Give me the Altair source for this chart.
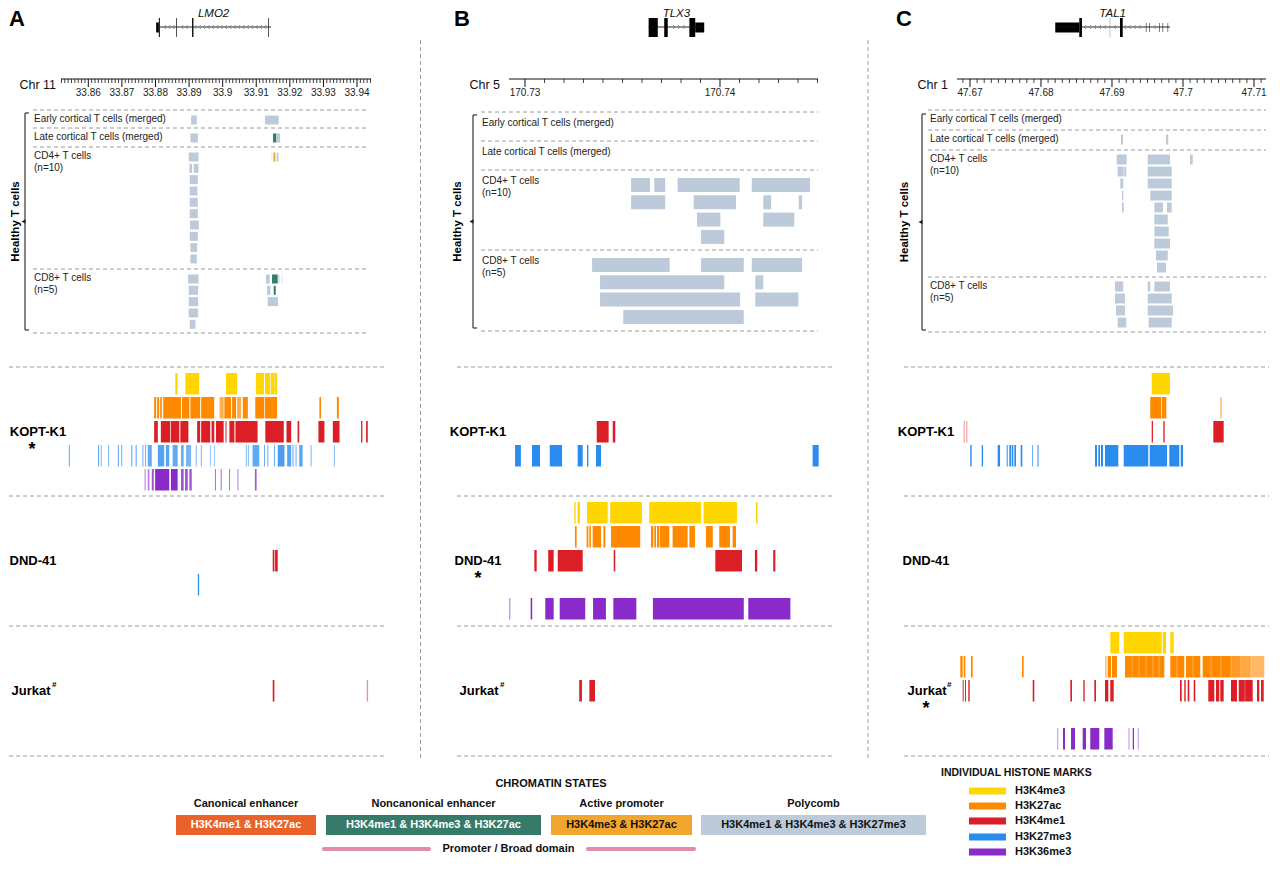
import altair as alt
import numpy as np
import pandas as pd

# =========================== DATA ===========================
MARKS = ["H3K4me3", "H3K27ac", "H3K4me1", "H3K27me3", "H3K36me3"]
MARK_COLORS = ["#FFD600", "#FF8A00", "#DC1F26", "#2B8CF0", "#8A2BC9"]

STATE_CODES = ["C", "N", "A", "P"]
STATE_NAMES = ["Canonical enhancer", "Noncanonical enhancer", "Active promoter", "Polycomb"]
STATE_MARKS = ["H3K4me1 & H3K27ac", "H3K4me1 & H3K4me3 & H3K27ac",
               "H3K4me3 & H3K27ac", "H3K4me1 & H3K4me3 & H3K27me3"]
STATE_COLORS = ["#E8622A", "#367B69", "#F2A52F", "#BCCADA"]

CELL_LINES = ["KOPT-K1", "DND-41", "Jurkat"]
HEALTHY_GROUPS = [["Early cortical T cells (merged)"], ["Late cortical T cells (merged)"],
                  ["CD4+ T cells", "(n=10)"], ["CD8+ T cells", "(n=5)"]]

# ---------------- Panel A : LMO2, chr11 ----------------
A_CHROM = "Chr 11"
A_GENE = "LMO2"
A_STRAND = "-"
A_TICKS = [33.86, 33.87, 33.88, 33.89, 33.90, 33.91, 33.92, 33.93, 33.94]
A_TICK_LABELS = ["33.86", "33.87", "33.88", "33.89", "33.9", "33.91", "33.92", "33.93", "33.94"]
A_RULER = [33.8519, 33.9442]
A_GENE_SPAN = [33.8802, 33.9144]
A_EXONS = [(33.8802, 33.8810, "utr"), (33.8810, 33.8813, "cds"), (33.8862, 33.8864, "cds"),
           (33.8909, 33.8913, "cds"), (33.9136, 33.9138, "cds")]
A_EARLY = [[(33.8906, 33.8923, "P"), (33.9126, 33.9167, "P")]]
A_LATE = [[(33.8904, 33.8926, "P"), (33.9150, 33.9160, "N"), (33.9160, 33.9171, "P")]]
A_CD4 = [
    [(33.8899, 33.8928, "P"), (33.9144, 33.9147, "P", 0.35), (33.9151, 33.9157, "A"), (33.9161, 33.9166, "P")],
    [(33.8901, 33.8909, "P"), (33.8914, 33.8928, "P")],
    [(33.8902, 33.8926, "P")],
    [(33.8902, 33.8925, "P")],
    [(33.8902, 33.8926, "P")],
    [(33.8902, 33.8926, "P")],
    [(33.8903, 33.8929, "P")],
    [(33.8902, 33.8926, "P")],
    [(33.8904, 33.8924, "P")],
    [(33.8904, 33.8923, "P")],
]
A_CD8 = [
    [(33.8897, 33.8928, "P"), (33.9129, 33.9140, "P"), (33.9147, 33.9164, "N"),
     (33.9164, 33.9170, "P", 0.5), (33.9174, 33.9179, "P", 0.3)],
    [(33.8899, 33.8927, "P"), (33.9132, 33.9142, "P"), (33.9152, 33.9158, "N")],
    [(33.8899, 33.8927, "P"), (33.9134, 33.9165, "P")],
    [(33.8899, 33.8927, "P")],
    [(33.8902, 33.8919, "P")],
]
A_KOPT = {
    "H3K4me3": [(33.8859, 33.8866), (33.8889, 33.8930), (33.9010, 33.9043), (33.9099, 33.9123),
                (33.9126, 33.9142), (33.9144, 33.9153), (33.9154, 33.9162)],
    "H3K27ac": [(33.8796, 33.8802), (33.8805, 33.8811), (33.8814, 33.8819), (33.8823, 33.8876),
                (33.8879, 33.8901), (33.8904, 33.8933), (33.8936, 33.8975), (33.8991, 33.9003, 0.7),
                (33.9005, 33.9025), (33.9028, 33.9040), (33.9043, 33.9055, 0.7), (33.9060, 33.9075),
                (33.9097, 33.9124), (33.9126, 33.9162), (33.9288, 33.9293), (33.9340, 33.9346)],
    "H3K4me1": [(33.8796, 33.8807), (33.8816, 33.8844), (33.8846, 33.8871), (33.8874, 33.8898),
                (33.8924, 33.8933), (33.8936, 33.8963), (33.8967, 33.8975), (33.8980, 33.9003),
                (33.9007, 33.9013, 0.5), (33.9020, 33.9035), (33.9038, 33.9104), (33.9127, 33.9182),
                (33.9190, 33.9204), (33.9223, 33.9228), (33.9285, 33.9303), (33.9328, 33.9348),
                (33.9412, 33.9416), (33.9427, 33.9432)],
    "H3K27me3": [(33.8542, 33.8545, 0.8), (33.8629, 33.8632, 0.8), (33.8637, 33.8640, 0.6),
                 (33.8659, 33.8662, 0.6), (33.8688, 33.8691, 0.8), (33.8698, 33.8701, 0.7),
                 (33.8728, 33.8731, 0.8), (33.8741, 33.8744, 0.8), (33.8761, 33.8764, 0.7),
                 (33.8769, 33.8772, 0.7), (33.8777, 33.8789, 0.75), (33.8807, 33.8826, 0.8),
                 (33.8831, 33.8841, 0.8), (33.8851, 33.8866, 0.75), (33.8876, 33.8884, 0.7),
                 (33.8891, 33.8906, 0.65), (33.8920, 33.8923, 0.6), (33.8935, 33.8938, 0.6),
                 (33.8962, 33.8965, 0.5), (33.8974, 33.8977, 0.5), (33.9069, 33.9072, 0.6),
                 (33.9075, 33.9078, 0.6), (33.9089, 33.9109, 0.75), (33.9123, 33.9126, 0.7),
                 (33.9133, 33.9136, 0.7), (33.9153, 33.9156, 0.7), (33.9164, 33.9184, 0.85),
                 (33.9192, 33.9204, 0.8), (33.9208, 33.9211, 0.8), (33.9217, 33.9220, 0.7),
                 (33.9228, 33.9238, 0.8), (33.9262, 33.9265, 0.6), (33.9331, 33.9334, 0.6)],
    "H3K36me3": [(33.8767, 33.8772, 0.4), (33.8777, 33.8782, 0.6), (33.8789, 33.8795, 0.8),
                 (33.8799, 33.8841), (33.8846, 33.8866), (33.8876, 33.8884, 0.8),
                 (33.8888, 33.8896, 0.8), (33.8901, 33.8908, 0.8), (33.8977, 33.8980, 0.7),
                 (33.8994, 33.8997, 0.7), (33.9019, 33.9022, 0.7), (33.9044, 33.9047, 0.6),
                 (33.9096, 33.9101, 0.8)],
}
A_DND = {"H3K4me1": [(33.9149, 33.9154), (33.9156, 33.9164)],
         "H3K27me3": [(33.8926, 33.8930)]}
A_JURKAT = {"H3K4me1": [(33.9149, 33.9154), (33.9429, 33.9433, 0.5)]}
A_STARRED = "KOPT-K1"

# ---------------- Panel B : TLX3, chr5 ----------------
B_CHROM = "Chr 5"
B_GENE = "TLX3"
B_STRAND = "+"
B_TICKS = [170.73, 170.74]
B_TICK_LABELS = ["170.73", "170.74"]
B_RULER = [170.72918, 170.74503]
B_GENE_SPAN = [170.73634, 170.73919]
B_EXONS = [(170.73634, 170.73681, "cds"), (170.73714, 170.73732, "cds"),
           (170.73843, 170.73873, "cds"), (170.73873, 170.73919, "utr")]
B_EARLY = []
B_LATE = []
B_CD4 = [
    [(170.73544, 170.73641, "P"), (170.73663, 170.73719, "P"), (170.73783, 170.74101, "P"), (170.74163, 170.74462, "P")],
    [(170.73544, 170.73719, "P"), (170.73865, 170.74082, "P"), (170.74222, 170.74262, "P"), (170.74404, 170.74421, "P")],
    [(170.73882, 170.74002, "P"), (170.74222, 170.74381, "P")],
    [(170.73903, 170.74022, "P")],
]
B_CD8 = [
    [(170.73344, 170.73742, "P"), (170.73903, 170.74122, "P"), (170.74163, 170.74421, "P")],
    [(170.73385, 170.74022, "P"), (170.74181, 170.74222, "P")],
    [(170.73385, 170.74103, "P"), (170.74181, 170.74402, "P")],
    [(170.73504, 170.74122, "P")],
]
B_KOPT = {
    "H3K4me1": [(170.73368, 170.73429), (170.73450, 170.73463)],
    "H3K27me3": [(170.72949, 170.72979), (170.73036, 170.73077), (170.73127, 170.73190),
                 (170.73270, 170.73296), (170.73318, 170.73325), (170.73364, 170.73390),
                 (170.74475, 170.74506)],
}
B_DND = {
    "H3K4me3": [(170.73253, 170.73260), (170.73270, 170.73282), (170.73318, 170.73424),
                (170.73437, 170.73600), (170.73637, 170.73903), (170.73916, 170.74087),
                (170.74185, 170.74193)],
    "H3K27ac": [(170.73256, 170.73265), (170.73316, 170.73325), (170.73330, 170.73338),
                (170.73347, 170.73390), (170.73402, 170.73412), (170.73441, 170.73591),
                (170.73646, 170.73658), (170.73663, 170.73672), (170.73677, 170.73689),
                (170.73692, 170.73740), (170.73757, 170.73834), (170.73843, 170.73872),
                (170.73928, 170.73963), (170.73996, 170.74051), (170.74065, 170.74082)],
    "H3K4me1": [(170.73048, 170.73060), (170.73119, 170.73147), (170.73168, 170.73296),
                (170.73455, 170.73463), (170.73976, 170.74113), (170.74179, 170.74191),
                (170.74273, 170.74284)],
    "H3K36me3": [(170.72918, 170.72925, 0.5), (170.73029, 170.73037), (170.73104, 170.73147),
                 (170.73178, 170.73309), (170.73349, 170.73415), (170.73453, 170.73571),
                 (170.73656, 170.74122), (170.74145, 170.74361)],
}
B_JURKAT = {"H3K4me1": [(170.73278, 170.73292), (170.73330, 170.73359)]}
B_STARRED = "DND-41"

# ---------------- Panel C : TAL1, chr1 ----------------
C_CHROM = "Chr 1"
C_GENE = "TAL1"
C_STRAND = "-"
C_TICKS = [47.67, 47.68, 47.69, 47.70, 47.71]
C_TICK_LABELS = ["47.67", "47.68", "47.69", "47.7", "47.71"]
C_RULER = [47.66817, 47.71169]
C_GENE_SPAN = [47.68201, 47.69817]
C_EXONS = [(47.68201, 47.68539, "utr"), (47.68539, 47.68577, "cds"), (47.68968, 47.68975, "thin"),
           (47.69113, 47.69151, "cds"), (47.69477, 47.69485, "short"), (47.69523, 47.69531, "short"),
           (47.69664, 47.69672, "short"), (47.69712, 47.69720, "short"), (47.69783, 47.69791, "short")]
C_EARLY = []
C_LATE = [[(47.69127, 47.69155, "P"), (47.69761, 47.69793, "P")]]
C_CD4 = [
    [(47.69066, 47.69207, "P"), (47.69503, 47.69817, "P"), (47.70099, 47.70137, "P")],
    [(47.69080, 47.69165, "P"), (47.69173, 47.69201, "P"), (47.69503, 47.69841, "P")],
    [(47.69117, 47.69159, "P"), (47.69503, 47.69841, "P")],
    [(47.69141, 47.69159, "P"), (47.69539, 47.69841, "P")],
    [(47.69141, 47.69165, "P"), (47.69596, 47.69718, "P"), (47.69775, 47.69841, "P")],
    [(47.69596, 47.69785, "P")],
    [(47.69596, 47.69799, "P")],
    [(47.69596, 47.69817, "P")],
    [(47.69620, 47.69785, "P")],
    [(47.69634, 47.69761, "P")],
]
C_CD8 = [
    [(47.69042, 47.69159, "P"), (47.69503, 47.69539, "P"), (47.69596, 47.69817, "P")],
    [(47.69042, 47.69183, "P"), (47.69503, 47.69841, "P")],
    [(47.69056, 47.69183, "P"), (47.69503, 47.69859, "P")],
    [(47.69080, 47.69201, "P"), (47.69517, 47.69841, "P")],
]
C_KOPT = {
    "H3K4me3": [(47.69559, 47.69817)],
    "H3K27ac": [(47.69539, 47.69690), (47.69700, 47.69765), (47.70525, 47.70545, 0.6)],
    "H3K4me1": [(47.66911, 47.66925, 0.5), (47.66948, 47.66962, 0.5), (47.69559, 47.69577),
                (47.69723, 47.69742), (47.70427, 47.70573)],
    "H3K27me3": [(47.67004, 47.67024), (47.67165, 47.67183), (47.67390, 47.67423),
                 (47.67517, 47.67531), (47.67554, 47.67577), (47.67587, 47.67610),
                 (47.67624, 47.67648), (47.67714, 47.67737), (47.67873, 47.67887, 0.7),
                 (47.67948, 47.67968, 0.7), (47.68761, 47.68789), (47.68807, 47.68831),
                 (47.68845, 47.68873), (47.68901, 47.69089), (47.69165, 47.69511),
                 (47.69531, 47.69775), (47.69807, 47.69948), (47.69968, 47.70000)],
}
C_DND = {}
C_JURKAT = {
    "H3K4me3": [(47.68976, 47.69103), (47.69165, 47.69700), (47.69714, 47.69761), (47.69821, 47.69869)],
    "H3K27ac": [(47.66863, 47.66897), (47.66911, 47.66934), (47.67014, 47.67038), (47.67732, 47.67756),
                (47.68901, 47.68925, 0.5), (47.68939, 47.68986), (47.69000, 47.69070),
                (47.69183, 47.69280), (47.69284, 47.69378), (47.69382, 47.69477), (47.69481, 47.69575),
                (47.69579, 47.69660), (47.69664, 47.69737), (47.69821, 47.69913), (47.69917, 47.70018),
                (47.70042, 47.70139), (47.70143, 47.70244), (47.70277, 47.70392), (47.70396, 47.70533),
                (47.70537, 47.70674), (47.70678, 47.70815, 0.85), (47.70819, 47.70956, 0.75),
                (47.70960, 47.71145, 0.6)],
    "H3K4me1": [(47.66897, 47.66911), (47.66930, 47.66944), (47.66976, 47.66996), (47.67883, 47.67906),
                (47.68413, 47.68437), (47.68596, 47.68615), (47.68751, 47.68775), (47.68901, 47.68948),
                (47.68976, 47.69024), (47.69958, 47.69982), (47.70018, 47.70038), (47.70066, 47.70089),
                (47.70151, 47.70173), (47.70356, 47.70441), (47.70465, 47.70511), (47.70525, 47.70573),
                (47.70676, 47.70761), (47.70785, 47.70871), (47.70875, 47.70982), (47.71042, 47.71075),
                (47.71099, 47.71137)],
    "H3K36me3": [(47.68225, 47.68244, 0.4), (47.68310, 47.68338), (47.68423, 47.68479),
                 (47.68587, 47.68634), (47.68694, 47.68821), (47.68892, 47.69010),
                 (47.69230, 47.69249, 0.4), (47.69292, 47.69310), (47.69362, 47.69380, 0.4)],
}
C_STARRED = "Jurkat"

# ======================= STYLE / LAYOUT =======================
FONT = "Liberation Sans"
OY = 8                     # page offset of the chart origin
H_TOP = 752
DASH_COLOR = "#9a9a9a"
RULER_Y = 79
MAJOR_TICK, MINOR_TICK = 8, 4
GENE_Y = 27
EXON_Y = {"cds": (18, 37), "utr": (22.5, 32.5), "short": (23, 32), "thin": (18, 37)}
EXON_COLOR = {"cds": "#000000", "utr": "#000000", "short": "#222222", "thin": "#8a8a8a"}
CELL_DASH = [367, 496, 626, 756]
ROW_PAD, ROW_STEP, ROW_H = 6, 24, 21.5
CHEVRON = {"-": "M0.5,-1L-0.5,0L0.5,1", "+": "M-0.5,-1L0.5,0L-0.5,1"}

LAYOUT = {
    "A": dict(left=8, width=412, domain=[33.83639, 33.95905], letter_x=8,
              hdash=[110, 128, 147, 269, 333], hx=[32, 368], pad=5.5, step=11.33, rh=9,
              lab_x=33, lab_dy=8.5, lab_dy2=12, bx=24, by=[113, 330], htx=15, cx=[8, 383],
              cl_x=[37, 32, 30], star_x=[31, 31, 30], hash_x=51, chr_x=55, sep_x=419.5,
              chev_step=0.0013),
    "B": dict(left=420, width=440, domain=[170.724667, 170.747231], letter_x=453,
              hdash=[112, 141, 170, 250, 331], hx=[480, 817], pad=8, step=17.3, rh=14,
              lab_x=481, lab_dy=10.5, lab_dy2=12.5, bx=472, by=[115, 328], htx=457, cx=[456, 832],
              cl_x=[477, 477, 478], star_x=[477, 477, 478], hash_x=499, chr_x=499, sep_x=None,
              chev_step=0.00026),
    "C": dict(left=860, width=408, domain=[47.654648, 47.712113], letter_x=895,
              hdash=[110, 130, 150, 277, 332], hx=[927, 1265], pad=4.5, step=12, rh=10,
              lab_x=929, lab_dy=8.5, lab_dy2=12.5, bx=921, by=[114, 330], htx=904, cx=[903, 1275],
              cl_x=[925, 925, 926], star_x=[925, 925, 925], hash_x=946, chr_x=947, sep_x=867,
              chev_step=0.0007),
}

PANELS = {
    "A": dict(chrom=A_CHROM, gene=A_GENE, strand=A_STRAND, ticks=A_TICKS, labels=A_TICK_LABELS,
              ruler=A_RULER, span=A_GENE_SPAN, exons=A_EXONS,
              healthy=[A_EARLY, A_LATE, A_CD4, A_CD8], cells=[A_KOPT, A_DND, A_JURKAT], star=A_STARRED),
    "B": dict(chrom=B_CHROM, gene=B_GENE, strand=B_STRAND, ticks=B_TICKS, labels=B_TICK_LABELS,
              ruler=B_RULER, span=B_GENE_SPAN, exons=B_EXONS,
              healthy=[B_EARLY, B_LATE, B_CD4, B_CD8], cells=[B_KOPT, B_DND, B_JURKAT], star=B_STARRED),
    "C": dict(chrom=C_CHROM, gene=C_GENE, strand=C_STRAND, ticks=C_TICKS, labels=C_TICK_LABELS,
              ruler=C_RULER, span=C_GENE_SPAN, exons=C_EXONS,
              healthy=[C_EARLY, C_LATE, C_CD4, C_CD8], cells=[C_KOPT, C_DND, C_JURKAT], star=C_STARRED),
}


def px(f):
    return alt.X(f, type="quantitative", scale=None, axis=None)


def py(f):
    return alt.Y(f, type="quantitative", scale=None, axis=None)


def text_layer(rows, **kw):
    return alt.Chart(pd.DataFrame(rows)).mark_text(font=FONT, **kw).encode(
        x=px("x"), y=py("y"), text="t:N")


def build_panel(key):
    L, P = LAYOUT[key], PANELS[key]
    left = L["left"]

    def gx(f):
        return alt.X(f, type="quantitative",
                     scale=alt.Scale(domain=L["domain"], nice=False, zero=False), axis=None)

    # ---------- rectangles (healthy states, histone marks, exons) ----------
    rects = []
    for g, rows in enumerate(P["healthy"]):
        top = L["hdash"][g] + L["pad"]
        for i, row in enumerate(rows):
            y0 = top + i * L["step"]
            for iv in row:
                a = iv[3] if len(iv) > 3 else 1.0
                rects.append(dict(s=iv[0], e=iv[1], y0=y0 - OY, y1=y0 + L["rh"] - OY,
                                  c=STATE_COLORS[STATE_CODES.index(iv[2])], a=a))
    for ci, tracks in enumerate(P["cells"]):
        for mk, ivs in tracks.items():
            k = MARKS.index(mk)
            y0 = CELL_DASH[ci] + ROW_PAD + k * ROW_STEP
            for iv in ivs:
                a = iv[2] if len(iv) > 2 else 1.0
                rects.append(dict(s=iv[0], e=iv[1], y0=y0 - OY, y1=y0 + ROW_H - OY,
                                  c=MARK_COLORS[k], a=a))
    for s, e, kind in P["exons"]:
        y0, y1 = EXON_Y[kind]
        rects.append(dict(s=s, e=e, y0=y0 - OY, y1=y1 - OY, c=EXON_COLOR[kind], a=1.0))
    rect_layer = alt.Chart(pd.DataFrame(rects)).mark_rect(clip=True).encode(
        x=gx("s"), x2="e:Q", y=py("y0"), y2="y1:Q",
        color=alt.Color("c:N", scale=None), opacity=alt.Opacity("a:Q", scale=None))

    # ---------- ruler + gene line ----------
    rules = []
    r0, r1 = P["ruler"]
    yb = RULER_Y - OY
    rules.append(dict(x=r0, x2=r1, y=yb, y2=yb, w=1.0))
    for t in np.round(np.arange(np.ceil(r0 * 1000 - 1e-9) / 1000, r1, 0.001), 3):
        major = any(abs(t - m) < 1e-6 for m in P["ticks"])
        rules.append(dict(x=t, x2=t, y=yb, y2=yb + (MAJOR_TICK if major else MINOR_TICK),
                          w=1.0 if major else 0.8))
    g0, g1 = P["span"]
    rules.append(dict(x=g0, x2=g1, y=GENE_Y - OY, y2=GENE_Y - OY, w=0.9))
    rule_layer = alt.Chart(pd.DataFrame(rules)).mark_rule(clip=True, color="#111111").encode(
        x=gx("x"), x2="x2:Q", y=py("y"), y2="y2:Q",
        strokeWidth=alt.StrokeWidth("w:Q", scale=None))

    # ---------- strand chevrons ----------
    st = L["chev_step"]
    chev = [p for p in np.arange(g0 + st, g1 - st / 2, st)
            if not any(s - st * 0.4 <= p <= e + st * 0.4 for s, e, _ in P["exons"])]
    chev_layer = alt.Chart(pd.DataFrame(dict(x=chev, y=[GENE_Y - OY] * len(chev)))).mark_point(
        shape=CHEVRON[P["strand"]], filled=False, size=16, strokeWidth=0.8, color="#777777",
        opacity=1).encode(x=gx("x"), y=py("y"))

    # ---------- genomic-positioned texts ----------
    tick_txt = alt.Chart(pd.DataFrame(dict(x=P["ticks"], t=P["labels"],
                                           y=[93 - OY] * len(P["ticks"])))).mark_text(
        font=FONT, fontSize=10, color="#222222").encode(x=gx("x"), y=py("y"), text="t:N")
    gene_txt = alt.Chart(pd.DataFrame(dict(x=[(g0 + g1) / 2], t=[P["gene"]], y=[0]))).mark_text(
        font=FONT, fontSize=11.5, fontStyle="italic", baseline="top",
        color="#111111").encode(x=gx("x"), y=py("y"), text="t:N")

    # ---------- pixel-positioned decorations ----------
    dashes = []
    for d in L["hdash"]:
        dashes.append(dict(x=L["hx"][0] - left, x2=L["hx"][1] - left, y=d - OY, y2=d - OY))
    for d in CELL_DASH:
        dashes.append(dict(x=max(L["cx"][0] - left, 0), x2=min(L["cx"][1] - left, L["width"]),
                           y=d - OY, y2=d - OY))
    if L["sep_x"] is not None:
        sx = L["sep_x"] - left
        dashes.append(dict(x=sx, x2=sx, y=40 - OY, y2=758 - OY))
    dash_layer = alt.Chart(pd.DataFrame(dashes)).mark_rule(
        color=DASH_COLOR, strokeWidth=1, strokeDash=[4, 3]).encode(
        x=px("x"), x2="x2:Q", y=py("y"), y2="y2:Q")

    bx = L["bx"] - left
    b0, b1 = L["by"][0] - OY, L["by"][1] - OY
    brk = [dict(x=bx, x2=bx, y=b0, y2=b1), dict(x=bx, x2=bx + 4, y=b0, y2=b0),
           dict(x=bx, x2=bx + 4, y=b1, y2=b1)]
    brk_layer = alt.Chart(pd.DataFrame(brk)).mark_rule(color="#333333", strokeWidth=1.2).encode(
        x=px("x"), x2="x2:Q", y=py("y"), y2="y2:Q")
    tri_layer = alt.Chart(pd.DataFrame(dict(x=[bx - 1.5], y=[(b0 + b1) / 2]))).mark_point(
        shape="triangle-left", filled=True, size=22, color="#222222", opacity=1).encode(
        x=px("x"), y=py("y"))

    layers = [dash_layer, rect_layer, rule_layer, chev_layer, tick_txt, gene_txt, brk_layer, tri_layer]

    layers.append(text_layer([dict(x=L["letter_x"] - left, y=1, t=key)], fontSize=22,
                             fontWeight="bold", align="left", baseline="top",
                             color="#000000"))
    layers.append(text_layer([dict(x=L["chr_x"] - left, y=85 - OY, t=P["chrom"])], fontSize=12.5,
                             align="right", baseline="middle", color="#111111"))
    hl = []
    for g, lines in enumerate(HEALTHY_GROUPS):
        for j, line in enumerate(lines):
            hl.append(dict(x=L["lab_x"] - left, y=L["hdash"][g] + L["lab_dy"] + j * L["lab_dy2"] - OY, t=line))
    layers.append(text_layer(hl, fontSize=10, align="left", baseline="middle", color="#222222"))
    layers.append(text_layer([dict(x=L["htx"] - left, y=(b0 + b1) / 2, t="Healthy T cells")],
                             fontSize=11.5, fontWeight="bold", angle=270, align="center",
                             baseline="middle", color="#000000"))
    cl, stars, hashes = [], [], []
    for ci, name in enumerate(CELL_LINES):
        cy = CELL_DASH[ci] + ROW_PAD + 2 * ROW_STEP + ROW_H / 2 - OY
        cl.append(dict(x=L["cl_x"][ci] - left, y=cy, t=name))
        if name == P["star"]:
            stars.append(dict(x=L["star_x"][ci] - left, y=cy + 18, t="*"))
        if name == "Jurkat":
            hashes.append(dict(x=L["hash_x"] - left, y=cy - 6, t="#"))
    layers.append(text_layer(cl, fontSize=13, fontWeight="bold", align="center",
                             baseline="middle", color="#000000"))
    layers.append(text_layer(stars, fontSize=18, fontWeight="bold", align="center",
                             baseline="middle", color="#000000"))
    layers.append(text_layer(hashes, fontSize=8, fontWeight="bold", align="left",
                             baseline="middle", color="#000000"))

    return alt.layer(*layers).resolve_scale(x="independent").properties(
        width=L["width"], height=H_TOP)


# ---------------------------- legend ----------------------------
LEG_OX, LEG_OY = 8, 770
LEG_W, LEG_H = 1260, 98
LEG_BOX_X = [(175, 315), (325, 540), (550, 691), (700, 925)]
LEG_BOX_Y = (825, 845)
LEG_TEXT_COLORS = ["#ffffff", "#ffffff", "#111111", "#111111"]
HIST_ROW_Y = [801, 816, 831, 847, 862]


def build_legend():
    boxes, box_txt, subs = [], [], []
    for i, name in enumerate(STATE_NAMES):
        x0, x1 = LEG_BOX_X[i]
        boxes.append(dict(x=x0 - LEG_OX, x2=x1 - LEG_OX, y=LEG_BOX_Y[0] - LEG_OY,
                          y2=LEG_BOX_Y[1] - LEG_OY, c=STATE_COLORS[i]))
        box_txt.append(dict(x=(x0 + x1) / 2 - LEG_OX, y=(LEG_BOX_Y[0] + LEG_BOX_Y[1]) / 2 - LEG_OY,
                            t=STATE_MARKS[i], c=LEG_TEXT_COLORS[i]))
        subs.append(dict(x=(x0 + x1) / 2 - LEG_OX, y=814 - LEG_OY, t=name))
    for i, mk in enumerate(MARKS):
        y = HIST_ROW_Y[i]
        boxes.append(dict(x=968 - LEG_OX, x2=1005 - LEG_OX, y=y - 3.5 - LEG_OY, y2=y + 3.5 - LEG_OY,
                          c=MARK_COLORS[i]))
    box_layer = alt.Chart(pd.DataFrame(boxes)).mark_rect().encode(
        x=px("x"), x2="x2:Q", y=py("y"), y2="y2:Q", color=alt.Color("c:N", scale=None))
    box_txt_layer = alt.Chart(pd.DataFrame(box_txt)).mark_text(
        font=FONT, fontSize=11, fontWeight="bold", baseline="middle").encode(
        x=px("x"), y=py("y"), text="t:N", color=alt.Color("c:N", scale=None))
    sub_layer = text_layer(subs, fontSize=11, fontWeight="bold", baseline="middle", color="#111111")
    title_layer = text_layer([dict(x=550 - LEG_OX, y=794 - LEG_OY, t="CHROMATIN STATES")],
                             fontSize=11, fontWeight="bold", baseline="middle", color="#111111")
    pink = [dict(x=323 - LEG_OX, x2=428 - LEG_OX, y=859 - LEG_OY, y2=859 - LEG_OY),
            dict(x=587 - LEG_OX, x2=693 - LEG_OX, y=859 - LEG_OY, y2=859 - LEG_OY)]
    pink_layer = alt.Chart(pd.DataFrame(pink)).mark_rule(
        color="#E38CA3", strokeWidth=4, strokeCap="round").encode(
        x=px("x"), x2="x2:Q", y=py("y"), y2="y2:Q")
    prom_layer = text_layer([dict(x=507.5 - LEG_OX, y=859 - LEG_OY, t="Promoter / Broad domain")],
                            fontSize=11, fontWeight="bold", baseline="middle", color="#111111")
    hist_title = text_layer([dict(x=940 - LEG_OX, y=783 - LEG_OY, t="INDIVIDUAL HISTONE MARKS")],
                            fontSize=10.5, fontWeight="bold", align="left", baseline="middle",
                            color="#111111")
    hist_lab = text_layer([dict(x=1014 - LEG_OX, y=HIST_ROW_Y[i] - LEG_OY, t=mk)
                           for i, mk in enumerate(MARKS)],
                          fontSize=11, fontWeight="bold", align="left", baseline="middle",
                          color="#111111")
    return alt.layer(box_layer, box_txt_layer, sub_layer, title_layer, pink_layer, prom_layer,
                     hist_title, hist_lab).properties(width=LEG_W, height=LEG_H)


top = alt.hconcat(build_panel("A"), build_panel("B"), build_panel("C"), spacing=0, bounds="flush")
chart = alt.vconcat(top, build_legend(), spacing=0, padding=0,
                    background="white").configure_view(stroke=None)

chart.save("out.html", embed_options={"renderer": "svg", "actions": False})
